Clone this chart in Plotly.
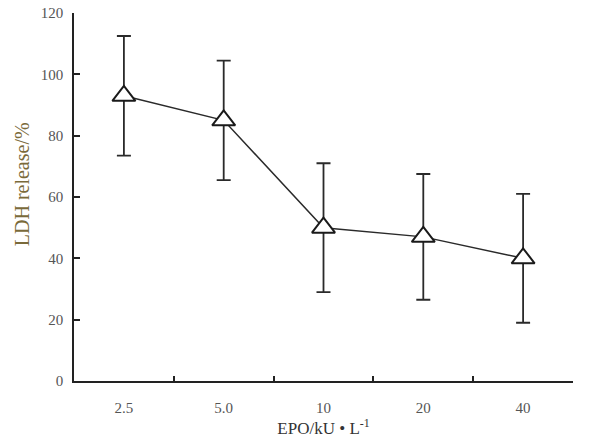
import plotly.graph_objects as go

categories = ["2.5", "5.0", "10", "20", "40"]
ldh_release = [93, 85, 50, 47, 40]
ldh_error = [19.5, 19.5, 21, 20.5, 21]
y_ticks = [0, 20, 40, 60, 80, 100, 120]

fig = go.Figure()
fig.add_trace(go.Scatter(
    x=categories, y=ldh_release,
    mode="lines+markers",
    line=dict(color="#2a2a2a", width=1.5),
    marker=dict(symbol="triangle-up", size=20, color="white",
                line=dict(color="#1a1a1a", width=2)),
    error_y=dict(type="data", array=ldh_error, visible=True,
                 color="#2a2a2a", thickness=1.8, width=7),
    showlegend=False,
))

font_serif = "Liberation Serif, Times New Roman, serif"
fig.update_layout(
    width=594, height=441,
    margin=dict(l=74, r=21, t=13, b=60),
    paper_bgcolor="white", plot_bgcolor="white",
    font=dict(family=font_serif, size=15, color="#444"),
)
fig.update_xaxes(
    type="category", range=[-0.5, 4.5], automargin=False,
    showline=True, linecolor="#222", linewidth=1.5,
    ticks="inside", tickson="boundaries", ticklen=5, tickcolor="#222", tickwidth=1.5,
    showgrid=False, zeroline=False, ticklabelstandoff=12,
    tickfont=dict(family=font_serif, size=15, color="#555"),
    title=dict(text="EPO/kU • L<sup>-1</sup>", font=dict(family=font_serif, size=17, color="#333"), standoff=4),
)
fig.update_yaxes(
    range=[0, 120], tickvals=y_ticks, automargin=False,
    showline=True, linecolor="#222", linewidth=1.5,
    ticks="inside", ticklen=6, tickcolor="#222", tickwidth=1.5,
    showgrid=False, zeroline=False, ticklabelstandoff=6,
    tickfont=dict(family=font_serif, size=15, color="#555"),
)
fig.add_annotation(
    text="LDH release/%", textangle=-90, showarrow=False,
    xref="paper", yref="paper", x=-0.104, y=0.535,
    xanchor="center", yanchor="middle",
    font=dict(family=font_serif, size=20, color="#7a6a3a"),
)

fig.write_html(
    "out.html",
    config={"displayModeBar": False},
    post_script="document.body.style.margin='0';document.body.style.overflow='hidden';",
)
